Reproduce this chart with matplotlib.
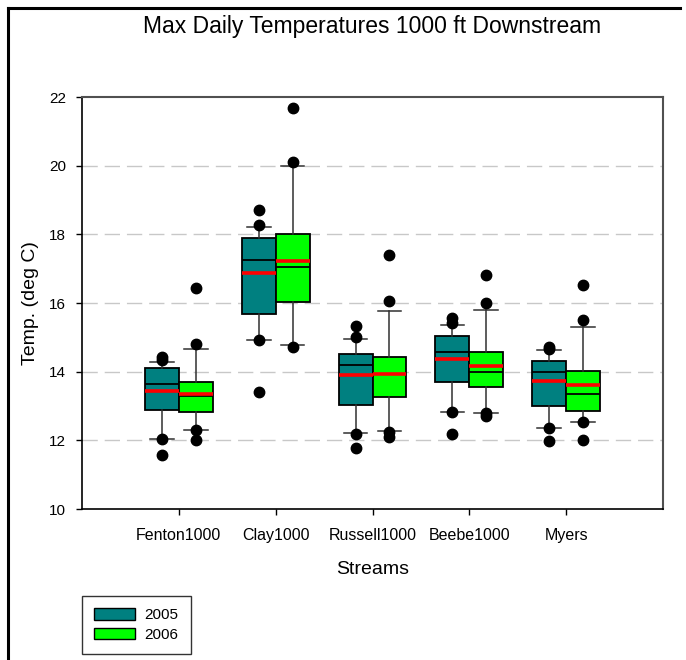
import matplotlib
matplotlib.use("Agg")
import matplotlib.pyplot as plt
from matplotlib.lines import Line2D
from matplotlib.patches import Patch

plt.rcParams['font.family'] = ['Liberation Sans', 'DejaVu Sans']

# Streams and sampling years
streams = ['Fenton1000', 'Clay1000', 'Russell1000', 'Beebe1000', 'Myers']
years = ['2005', '2006']

# 2005 summary statistics (deg C)
q1_2005 = [12.87, 15.68, 13.02, 13.70, 13.01]
med_2005 = [13.65, 17.26, 14.19, 14.57, 13.99]
q3_2005 = [14.12, 17.90, 14.51, 15.05, 14.32]
lo_2005 = [12.04, 14.92, 12.21, 12.82, 12.36]
hi_2005 = [14.29, 18.22, 14.95, 15.37, 14.64]
mean_2005 = [13.43, 16.86, 13.89, 14.36, 13.73]
out_2005 = [[14.33, 14.42, 12.04, 11.56],
            [18.26, 18.72, 14.92, 13.42],
            [15.01, 15.32, 12.17, 11.77],
            [15.43, 15.56, 12.82, 12.19],
            [14.66, 14.71, 12.37, 11.97]]

# 2006 summary statistics (deg C)
q1_2006 = [12.82, 16.03, 13.27, 13.56, 12.84]
med_2006 = [13.28, 17.05, 13.93, 13.99, 13.36]
q3_2006 = [13.69, 18.01, 14.44, 14.57, 14.03]
lo_2006 = [12.30, 14.78, 12.28, 12.79, 12.53]
hi_2006 = [14.66, 20.00, 15.78, 15.80, 15.30]
mean_2006 = [13.35, 17.21, 13.94, 14.16, 13.62]
out_2006 = [[14.81, 16.45, 12.30, 12.00],
            [20.11, 21.68, 14.72],
            [16.06, 17.40, 12.23, 12.09],
            [16.00, 16.83, 12.81, 12.71],
            [15.51, 16.51, 12.52, 12.01]]

y_ticks = [10, 12, 14, 16, 18, 20, 22]
grid_levels = [12, 14, 16, 18, 20]

colors = {'2005': '#008080', '2006': '#00FF00'}

W, H = 686, 660
fig = plt.figure(figsize=(W / 100, H / 100), dpi=100)
ax = fig.add_axes([82 / W, 1 - 509 / H, (663 - 82) / W, (509 - 97) / H])

for g in grid_levels:
    ax.axhline(g, color='#c8c8c8', lw=1.0, dashes=(11, 5), zorder=0)


def stats_for(q1, med, q3, lo, hi, mean, outs):
    return [dict(q1=a, med=b, q3=c, whislo=d, whishi=e, mean=f, fliers=o)
            for a, b, c, d, e, f, o in zip(q1, med, q3, lo, hi, mean, outs)]


groups = {
    '2005': stats_for(q1_2005, med_2005, q3_2005, lo_2005, hi_2005, mean_2005, out_2005),
    '2006': stats_for(q1_2006, med_2006, q3_2006, lo_2006, hi_2006, mean_2006, out_2006),
}
offsets = {'2005': -0.175, '2006': 0.175}
base = list(range(1, len(streams) + 1))

for yr in years:
    pos = [p + offsets[yr] for p in base]
    ax.bxp(groups[yr], positions=pos, widths=0.35, capwidths=0.245,
           patch_artist=True, showmeans=True, meanline=True,
           boxprops=dict(facecolor=colors[yr], edgecolor='black', linewidth=1.3),
           medianprops=dict(color='black', linewidth=1.3),
           meanprops=dict(color='#FF0000', linestyle='-', linewidth=2.6),
           whiskerprops=dict(color='#303030', linewidth=1.1),
           capprops=dict(color='#303030', linewidth=1.1),
           flierprops=dict(marker='o', markerfacecolor='black',
                           markeredgecolor='black', markersize=7.5),
           manage_ticks=False, zorder=3)

ax.set_xlim(0, 6)
ax.set_ylim(10, 22)
ax.set_xticks(base)
ax.set_xticklabels(streams, fontsize=11.5)
ax.set_yticks(y_ticks)
ax.set_yticklabels([str(t) for t in y_ticks], fontsize=11)
ax.tick_params(axis='both', direction='out', length=4.5, width=1, color='black')
ax.tick_params(axis='x', pad=9)
ax.tick_params(axis='y', pad=7)

for side in ('left', 'bottom'):
    ax.spines[side].set_color('black')
    ax.spines[side].set_linewidth(1.2)
for side in ('top', 'right'):
    ax.spines[side].set_color('#505050')
    ax.spines[side].set_linewidth(1.5)

ax.set_xlabel('Streams', fontsize=14, labelpad=13)
ax.set_ylabel('Temp. (deg C)', fontsize=14, labelpad=7)
fig.text((82 + 663) / 2 / W, 1 - 27 / H, 'Max Daily Temperatures 1000 ft Downstream',
         ha='center', va='center', fontsize=16.5)

handles = [Patch(facecolor=colors[y], edgecolor='black', linewidth=1.0, label=y) for y in years]
leg = fig.legend(handles=handles, loc='upper left',
                 bbox_to_anchor=(82 / W, 1 - 596 / H), fontsize=11,
                 frameon=True, fancybox=False, edgecolor='black',
                 handlelength=2.7, handleheight=0.8, labelspacing=0.35,
                 borderpad=0.8, handletextpad=0.6, borderaxespad=0)
leg.get_frame().set_linewidth(1.0)

# frame lines around the figure panel
fig.add_artist(Line2D([8 / W, 8 / W], [1 - 8 / H, 0], color='black', lw=2.2))
fig.add_artist(Line2D([8 / W, 680 / W], [1 - 8 / H, 1 - 8 / H], color='black', lw=2.2))

fig.savefig('out.png', dpi=100)
